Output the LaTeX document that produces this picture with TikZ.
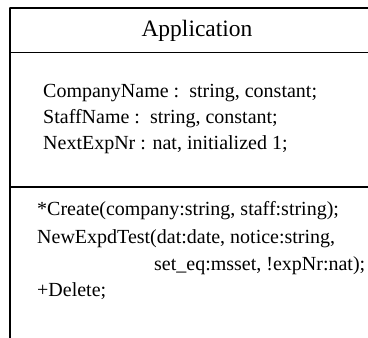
\documentclass[tikz,border=0pt]{standalone}
\usepackage{amsmath, tikz, tkz-euclide, xcolor}
\usepackage{fontspec}
\setmainfont{Liberation Serif}

\begin{document}
\begin{tikzpicture}[x=1pt,y=-1pt,
    title/.style={anchor=base,inner sep=0pt,font=\fontsize{23.5}{28}\selectfont},
    member/.style={anchor=base west,inner sep=0pt,font=\fontsize{20}{24}\selectfont}]
    \useasboundingbox (0,0) rectangle (368,338);
    \tkzDefPoints{10/8/A, 368/8/B, 10/338/C, 10/52.5/D, 368/52.5/E, 10/187/F, 368/187/G}
    \tkzDrawSegments[line width=1.2pt](A,B A,C D,E F,G)
    \node[title] (name) at (197,36.5) {Application};
    % attributes
    \node[member] (company) at (43,97.3) {CompanyName :\ \ string, constant;};
    \node[member] (staff) at (43,123.3) {StaffName :\ \ string, constant;};
    \node[member] (nextnr) at (43,149.3) {NextExpNr : nat, initialized 1;};
    % operations
    \node[member] (create) at (37,215) {*Create(company:string, staff:string);};
    \node[member] (newtest) at (37,243.3) {NewExpdTest(dat:date, notice:string,};
    \node[member] (newtestb) at (154,270) {set\_eq:msset, !expNr:nat);};
    \node[member] (delete) at (37,296.7) {+Delete;};
    \end{tikzpicture}
\end{document}
